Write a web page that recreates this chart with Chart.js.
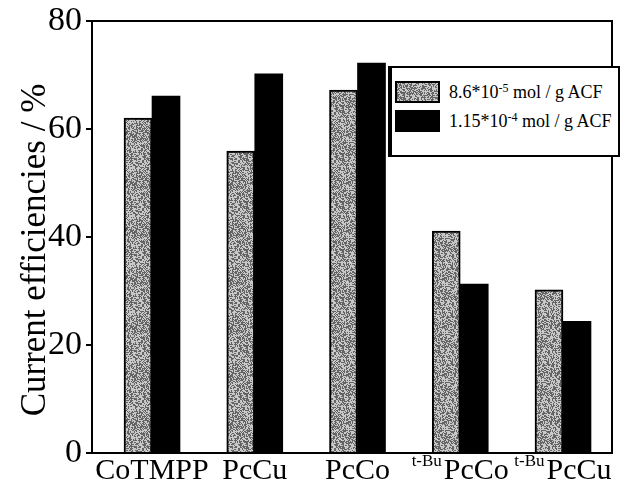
<!DOCTYPE html>
<html lang="en">
<head>
<meta charset="UTF-8">
<title>Current efficiencies</title>
<script src="https://cdn.jsdelivr.net/npm/chart.js"></script>
<style>
  body { margin: 0; background: #fff; }
  #wrap { position: relative; width: 624px; height: 488px; }
  #legend { position: absolute; left: 388px; top: 66px; width: 226px; height: 87px;
            border: 2px solid #000; border-left-width: 4px; background: #fff;
            font-family: "Liberation Serif", serif; font-size: 18px; color: #000; }
  .item { position: absolute; left: 3px; height: 22px; display: flex; align-items: center; white-space: nowrap; }
  .sw { width: 45px; height: 22px; margin-right: 9px; box-sizing: border-box; }
  sup { font-size: 12px; vertical-align: 6px; line-height: 0; }
</style>
</head>
<body>
<div id="wrap">
  <canvas id="chart" width="624" height="488"></canvas>
  <div id="legend"></div>
</div>
<script>
// data
const catPrefix = ['', '', '', 't-Bu', 't-Bu'];
const catName = ['CoTMPP', 'PcCu', 'PcCo', 'PcCo', 'PcCu'];
const lowLoading = [62.0, 55.9, 67.2, 41.1, 30.2];
const highLoading = [66.1, 70.2, 72.2, 31.3, 24.4];
const seriesBase = ['8.6*10', '1.15*10'];
const seriesExp = ['-5', '-4'];
const seriesUnit = ' mol / g ACF';
const yTicks = [0, 20, 40, 60, 80];
const yTitle = 'Current efficiencies / %';

// speckled grey fill like the printed figure
function speckle() {
  const c = document.createElement('canvas');
  c.width = c.height = 48;
  const g = c.getContext('2d');
  const img = g.createImageData(48, 48);
  let s = 12345;
  for (let i = 0; i < 48 * 48; i++) {
    s = (s * 1103515245 + 12345) & 0x7fffffff;
    const v = ((s >> 16) & 255) < 125 ? 100 : 200;
    img.data[i * 4] = img.data[i * 4 + 1] = img.data[i * 4 + 2] = v;
    img.data[i * 4 + 3] = 255;
  }
  g.putImageData(img, 0, 0);
  return c;
}
const greyCanvas = speckle();
const ctx0 = document.getElementById('chart').getContext('2d');
const greyFill = ctx0.createPattern(greyCanvas, 'repeat');

// legend (html so the exponents can be superscripts)
const legend = document.getElementById('legend');
const swatchTops = [13, 42];
seriesBase.forEach((b, i) => {
  const d = document.createElement('div');
  d.className = 'item';
  d.style.top = swatchTops[i] + 'px';
  const sw = document.createElement('div');
  sw.className = 'sw';
  if (i === 0) {
    sw.style.backgroundImage = 'url(' + greyCanvas.toDataURL() + ')';
    sw.style.border = '2px solid #000';
  } else {
    sw.style.background = '#000';
  }
  d.appendChild(sw);
  const t = document.createElement('span');
  t.innerHTML = b + '<sup>' + seriesExp[i] + '</sup>' + seriesUnit;
  d.appendChild(t);
  legend.appendChild(d);
});

const serif = '"Liberation Serif", "Times New Roman", serif';

const extras = {
  id: 'extras',
  afterDraw(chart) {
    const { ctx, chartArea: a, scales: { x } } = chart;
    ctx.save();
    // frame
    ctx.strokeStyle = '#000';
    ctx.lineWidth = 2;
    ctx.strokeRect(a.left, a.top, a.right - a.left, a.bottom - a.top);
    // category labels with superscript prefix
    ctx.fillStyle = '#000';
    ctx.textBaseline = 'alphabetic';
    ctx.textAlign = 'left';
    catName.forEach((name, i) => {
      ctx.font = '17px ' + serif;
      const pw = catPrefix[i] ? ctx.measureText(catPrefix[i]).width + 2 : 0;
      ctx.font = '30px ' + serif;
      const nw = ctx.measureText(name).width;
      let sx = x.getPixelForValue(i) - (pw + nw) / 2;
      if (catPrefix[i]) {
        ctx.font = '17px ' + serif;
        ctx.fillText(catPrefix[i], sx, 466);
        sx += pw;
      }
      ctx.font = '30px ' + serif;
      ctx.fillText(name, sx, 479);
    });
    // y title
    ctx.translate(45, 250);
    ctx.rotate(-Math.PI / 2);
    ctx.textAlign = 'center';
    ctx.font = '35px ' + serif;
    ctx.fillText(yTitle, 0, 0);
    ctx.restore();
  }
};

new Chart(ctx0, {
  type: 'bar',
  data: {
    datasets: [
      { label: seriesBase[0] + seriesExp[0] + seriesUnit,
        data: lowLoading.map((v, i) => ({ x: i, y: v })),
        backgroundColor: greyFill, borderColor: '#000', borderWidth: 2, barThickness: 28 },
      { label: seriesBase[1] + seriesExp[1] + seriesUnit,
        data: highLoading.map((v, i) => ({ x: i, y: v })),
        backgroundColor: '#000', borderWidth: 0, barThickness: 28 }
    ]
  },
  options: {
    responsive: false,
    animation: false,
    layout: { padding: { top: 20, right: 12, left: 0, bottom: 0 } },
    plugins: { legend: { display: false }, tooltip: { enabled: false } },
    scales: {
      x: {
        type: 'linear', min: -0.584, max: 4.477, offset: false,
        afterBuildTicks: s => { s.ticks = catName.map((c, i) => ({ value: i })); },
        ticks: { display: false },
        grid: { display: false },
        border: { display: false },
        afterFit: s => { s.height = 35; }
      },
      y: {
        min: 0, max: 80,
        afterBuildTicks: s => { s.ticks = yTicks.map(v => ({ value: v })); },
        ticks: { color: '#000', padding: 4, font: { family: serif, size: 34, lineHeight: 1 } },
        grid: { drawOnChartArea: false, drawTicks: true, tickLength: 6, color: '#000', lineWidth: 2 },
        border: { display: true, color: '#000', width: 2 },
        afterFit: s => { s.width = 92; }
      }
    }
  },
  plugins: [extras]
});
</script>
</body>
</html>
